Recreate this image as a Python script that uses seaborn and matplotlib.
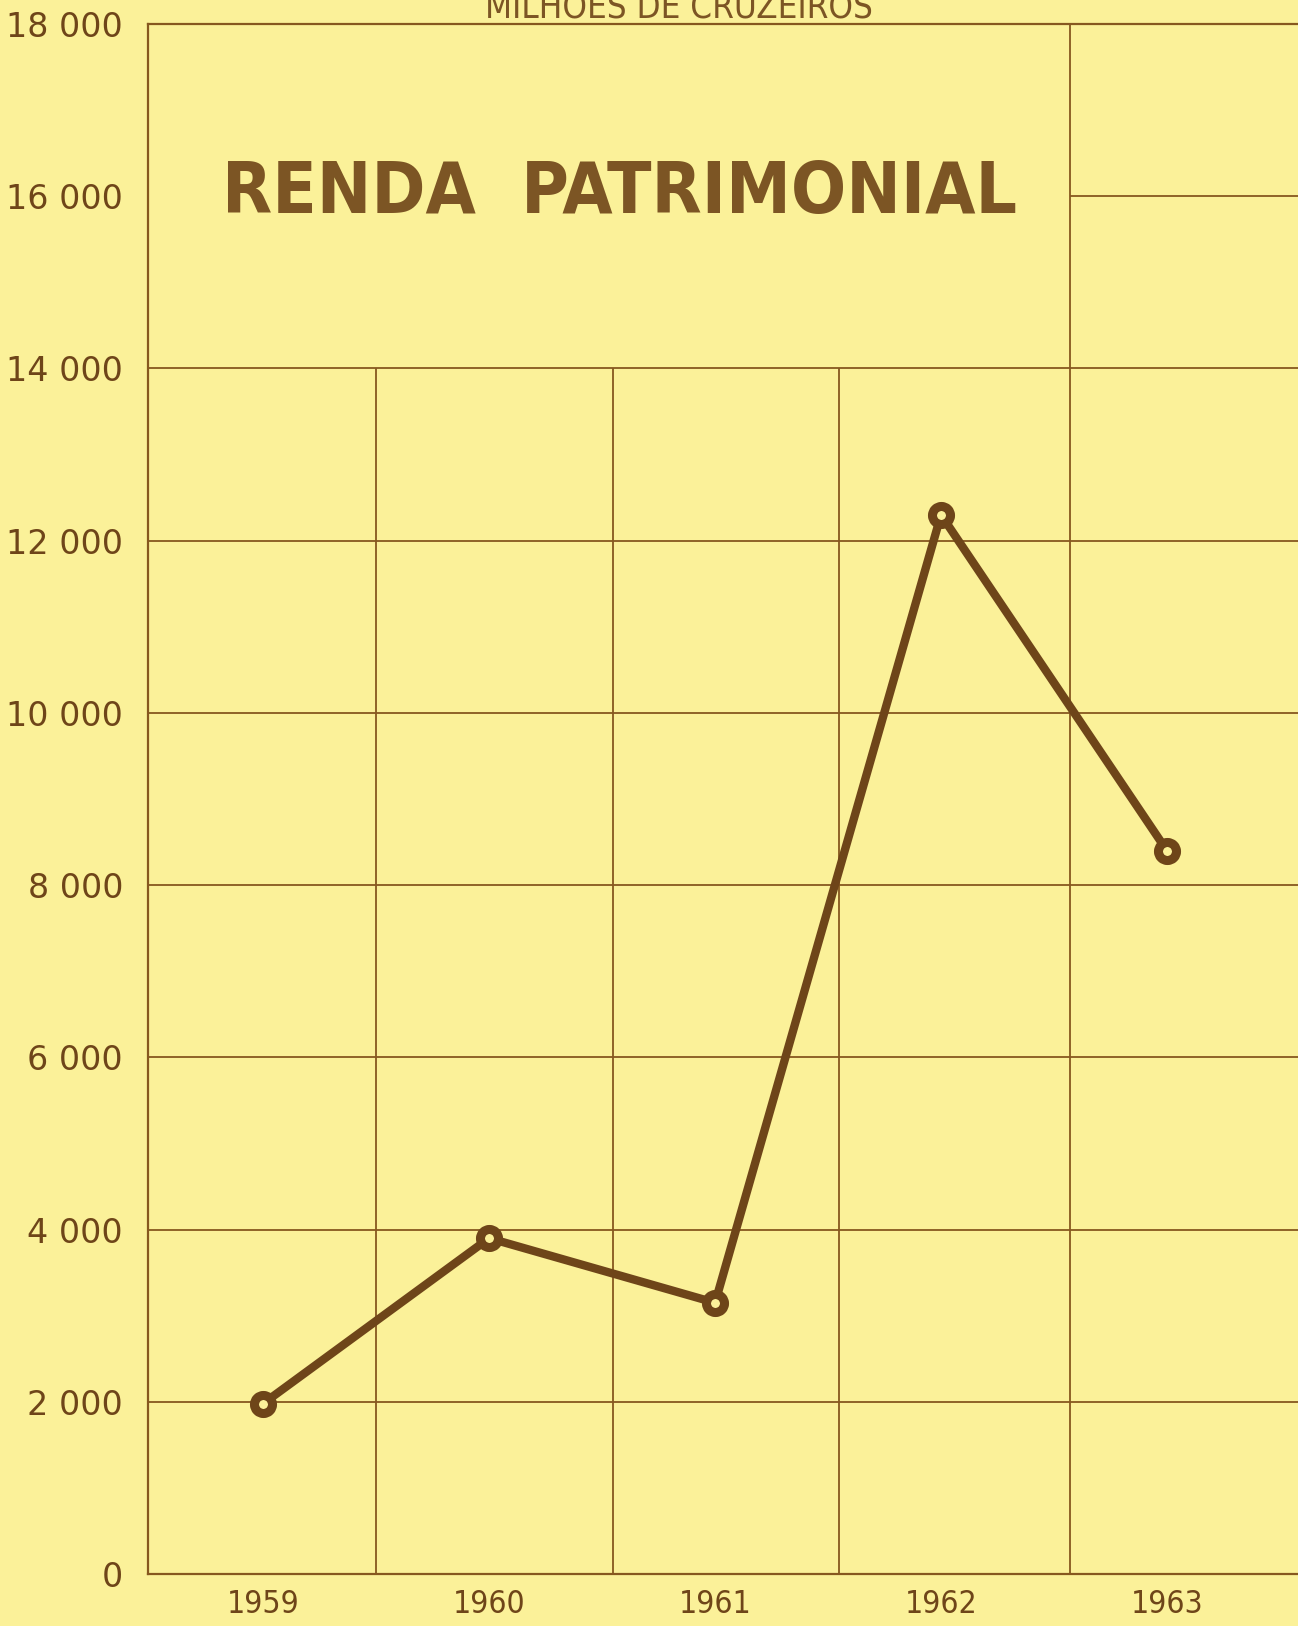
import numpy as np
import pandas as pd
import matplotlib
matplotlib.use("Agg")
import matplotlib.pyplot as plt
from matplotlib import font_manager as fm
import seaborn as sns

# data (milhões de cruzeiros)
years = ["1959", "1960", "1961", "1962", "1963"]
renda = [1980, 3900, 3150, 12300, 8400]
y_ticks = [0, 2000, 4000, 6000, 8000, 10000, 12000, 14000, 16000, 18000]
y_labels = ["0", "2 000", "4 000", "6 000", "8 000", "10 000",
            "12 000", "14 000", "16 000", "18 000"]

paper = "#FBF199"
ink = "#6E4519"
grid_ink = "#86581F"
title_ink = "#7C5524"

sns.set_theme(style="white")
plt.rcParams["font.family"] = ["DejaVu Sans"]

# pick the narrowest face we have for the condensed lettering
installed = {(f.name, f.stretch) for f in fm.fontManager.ttflist}
names = {n for n, _ in installed}
if "Liberation Sans Narrow" in names:
    narrow = dict(family=["Liberation Sans Narrow", "DejaVu Sans"])
elif any(n == "DejaVu Sans" and s == "condensed" for n, s in installed):
    narrow = dict(family=["DejaVu Sans"], fontstretch="condensed")
elif "Roboto" in names:
    narrow = dict(family=["Roboto", "DejaVu Sans"])
else:
    narrow = dict(family=["DejaVu Sans"])

df = pd.DataFrame({"ano": years, "renda": renda})

fig = plt.figure(figsize=(12.98, 16.26), dpi=100, facecolor=paper)
ax = fig.add_axes([148 / 1298, 52 / 1626, (1298 - 148) / 1298, 1550 / 1626])
ax.set_facecolor(paper)

# grid drawn by hand: the title box interrupts it at the top
for x in [0.5, 1.55, 2.55]:
    ax.vlines(x, 0, 14000, color=grid_ink, lw=1.3, zorder=1)
ax.vlines(3.57, 0, 18000, color=grid_ink, lw=1.3, zorder=1)
for y in y_ticks[1:-2]:
    ax.hlines(y, -1, 6, color=grid_ink, lw=1.3, zorder=1)
ax.hlines(16000, 3.57, 6, color=grid_ink, lw=1.3, zorder=1)

sns.lineplot(data=df, x="ano", y="renda", ax=ax, color=ink, lw=6,
             marker="o", markersize=13, markerfacecolor=paper,
             markeredgecolor=ink, markeredgewidth=6.5, zorder=3)

ax.set_xlim(-0.51, 4.58)
ax.set_ylim(0, 18000)
ax.set_yticks(y_ticks)
ax.set_yticklabels(y_labels)
ax.set_xlabel("")
ax.set_ylabel("")
ax.tick_params(axis="y", length=0, pad=18, labelsize=24, labelcolor=ink)
ax.tick_params(axis="x", length=0, pad=11, labelcolor=ink)

for side in ["left", "bottom", "top"]:
    ax.spines[side].set_color(grid_ink)
    ax.spines[side].set_linewidth(1.6)
ax.spines["right"].set_visible(False)

title = fig.text(620 / 1298, 1 - 213 / 1626, "RENDA  PATRIMONIAL", ha="center",
                 va="baseline", fontsize=62, fontweight="bold", color=title_ink, **narrow)
header = fig.text(679 / 1298, 1 - 18 / 1626, "MILHÕES DE CRUZEIROS", ha="center",
                  va="baseline", fontsize=25, color=title_ink, **narrow)
for lab in ax.get_xticklabels():
    lab.set_fontsize(28)
    for k, v in narrow.items():
        getattr(lab, "set_" + k)(v)

# shrink the condensed texts until their widths match the reference
renderer = fig.canvas.get_renderer()
for txt, width in [(title, 795), (header, 397)]:
    w = txt.get_window_extent(renderer).width
    if w > width:
        txt.set_fontsize(txt.get_fontsize() * width / w)
labs = ax.get_xticklabels()
w = labs[0].get_window_extent(renderer).width
if w > 73:
    for lab in labs:
        lab.set_fontsize(28 * 73 / w)

fig.savefig("out.png", dpi=100, facecolor=paper)
